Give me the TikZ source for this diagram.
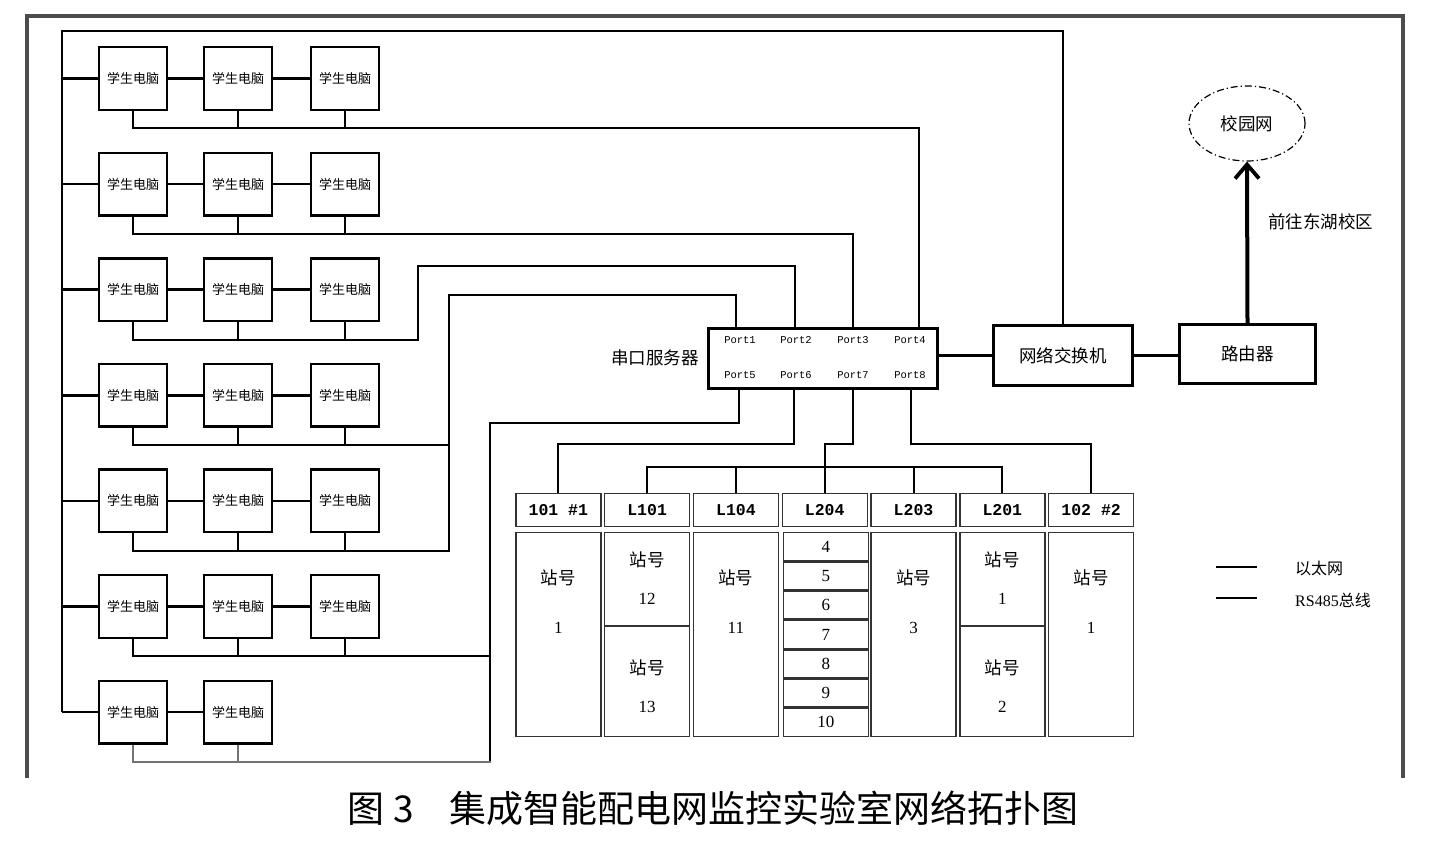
\documentclass[tikz,border=0pt]{standalone}
\usepackage{fontspec}
\setmainfont{Liberation Serif}
\newfontfamily\cjk{Noto Sans CJK SC}
\newfontfamily\mono{Liberation Mono}
\usetikzlibrary{arrows.meta,shapes.geometric,calc}
\begin{document}
\begin{tikzpicture}[x=1pt,y=-1pt,
  pc/.style={draw,line width=2.4pt,minimum width=67.5pt,minimum height=62.5pt,inner sep=0pt,font=\cjk\fontsize{13}{13}\selectfont},
  box/.style={draw,line width=3pt,inner sep=0pt,font=\cjk\fontsize{17.5}{17.5}\selectfont},
  eth/.style={line width=2.6pt},
  rs/.style={line width=2pt},
  rsg/.style={line width=1.4pt,draw=black!55},
  frame/.style={line width=4.5pt,draw=black!70},
  cell/.style={draw=black!80,line width=1.4pt,inner sep=0pt,minimum width=85pt},
  hdr/.style={cell,minimum height=32.6pt,font=\mono\bfseries\fontsize{16.5}{16.5}\selectfont},
  port/.style={inner sep=0pt,font=\mono\fontsize{10.5}{10.5}\selectfont},
  zh/.style={inner sep=0pt,font=\cjk\fontsize{17.5}{17.5}\selectfont},
  num/.style={inner sep=0pt,font=\fontsize{17}{17}\selectfont},
]
\useasboundingbox (0,0) rectangle (1432,843);
\fill[white] (0,0) rectangle (1432,843);

% outer frame
\draw[frame] (27,778) -- (27,16) -- (1403,16) -- (1403,778);

% student PCs
\foreach \r in {1,...,6}{
  \pgfmathsetmacro{\yy}{78.5+105.6*(\r-1)}
  \node[pc] (pc\r1) at (133,\yy) {学生电脑};
  \node[pc] (pc\r2) at (238,\yy) {学生电脑};
  \node[pc] (pc\r3) at (345,\yy) {学生电脑};
}
\node[pc] (pc71) at (133,712.1) {学生电脑};
\node[pc] (pc72) at (238,712.1) {学生电脑};

% network devices
\node[box,minimum width=229pt,minimum height=60pt] (sv) at (823,358.5) {};
\node[zh,anchor=east] (svl) at (699,358) {串口服务器};
\node[box,minimum width=139pt,minimum height=60pt] (sw) at (1063,355.5) {网络交换机};
\node[box,minimum width=136pt,minimum height=59pt] (rt) at (1247.5,354) {路由器};
\node[draw,ellipse,line width=1.2pt,dash pattern=on 7pt off 3pt on 1.2pt off 3pt,
      minimum width=116pt,minimum height=75pt,zh] (net) at (1247,123.5) {校园网};
\node[zh,anchor=west] (go) at (1268,222) {前往东湖校区};

% port labels
\node[port] (pt1) at (740,340) {Port1};
\node[port] (pt2) at (796,340) {Port2};
\node[port] (pt3) at (853,340) {Port3};
\node[port] (pt4) at (910,340) {Port4};
\node[port] (pt5) at (740,375) {Port5};
\node[port] (pt6) at (796,375) {Port6};
\node[port] (pt7) at (853,375) {Port7};
\node[port] (pt8) at (910,375) {Port8};
\coordinate (p1) at (736,327);
\coordinate (p2) at (795,327);
\coordinate (p3) at (853,327);
\coordinate (p4) at (919,327);
\coordinate (p5) at (739,390);
\coordinate (p6) at (794,390);
\coordinate (p7) at (853,390);
\coordinate (p8) at (911,390);

% ethernet
\coordinate (tl) at (62,31);
\draw[eth] (pc71.west -| tl) -- (tl) -| (sw.north);
\foreach \r in {1,...,6}{
  \draw[eth] (pc\r1.west -| tl) -- (pc\r1.west);
  \draw[eth] (pc\r1.east) -- (pc\r2.west);
  \draw[eth] (pc\r2.east) -- (pc\r3.west);
}
\draw[eth] (pc71.west -| tl) -- (pc71.west);
\draw[eth] (pc71.east) -- (pc72.west);
\draw[eth] (sv.east |- sw.west) -- (sw.west);
\draw[eth] (sw.east) -- (sw.east -| rt.west);
\draw[line width=4pt,-{Straight Barb[length=14pt,width=24pt,line width=3.8pt]}] (rt.north) -- (net.south);

% RS485 buses of PC rows
\foreach \r in {1,...,6}{
  \draw[rs] (pc\r2.south) -- ++(0,17.5);
  \draw[rs] (pc\r3.south) -- ++(0,17.5);
}
\coordinate (r3) at (418,266);
\coordinate (r4) at (449,294.5);
\coordinate (r6) at (490,423);
\coordinate (r7) at (490,763);
\draw[rs] (pc11.south) -- ++(0,17.5) -| (p4);
\draw[rs] (pc21.south) -- ++(0,17.5) -| (p3);
\draw[rs] (pc31.south) -- ++(0,17.5) -| (r3) -| (p2);
\draw[rs] (pc41.south) -- ++(0,17.5) -| (r4) -| (p1);
\draw[rs] (pc51.south) -- ++(0,17.5) -| (r4);
\draw[rs] (pc61.south) -- ++(0,17.5) -| (r6);
\draw[rs] (r7) -- (r6) -| (p5);
\draw[rsg] (pc72.south) -- ++(0,17.5);
\draw[rsg] (pc71.south) -- ++(0,17.5) -| (r7);

% table headers
\foreach \i/\t in {1/101 \#1,2/L101,3/L104,4/L204,5/L203,6/L201,7/102 \#2}{
  \pgfmathsetmacro{\xx}{558.3+88.8*(\i-1)}
  \node[hdr] (h\i) at (\xx,510) {\t};
}
% single bodies
\foreach \i/\n in {1/1,3/11,5/3,7/1}{
  \pgfmathsetmacro{\xx}{558.3+88.8*(\i-1)}
  \node[cell,minimum height=203.6pt] (b\i) at (\xx,634.5) {};
  \node[zh] (b\i z) at (\xx,578) {站号};
  \node[num] (b\i n) at (\xx,628) {\n};
}
% double bodies
\foreach \i/\na/\nb in {2/12/13,6/1/2}{
  \pgfmathsetmacro{\xx}{558.3+88.8*(\i-1)}
  \node[cell,minimum height=92.6pt] (b\i a) at (\xx,579) {};
  \node[cell,minimum height=109.6pt] (b\i b) at (\xx,681.5) {};
  \node[zh] (b\i az) at (\xx,560) {站号};
  \node[num] (b\i an) at (\xx,599) {\na};
  \node[zh] (b\i bz) at (\xx,668) {站号};
  \node[num] (b\i bn) at (\xx,707) {\nb};
}
% L204 cells
\foreach \k in {1,...,7}{
  \pgfmathsetmacro{\yy}{532+29.286*(\k-0.5)}
  \pgfmathtruncatemacro{\nn}{\k+3}
  \node[cell,minimum height=27.9pt,font=\fontsize{17}{17}\selectfont] (c\k) at (825.9,\yy) {\nn};
}

% RS485 to table
\coordinate (bar) at (0,467);
\draw[rs] (p6) -- ++(0,54) -| (h1.north);
\draw[rs] (p7) -- ++(0,54) -| (h4.north |- bar) -- (h4.north);
\draw[rs] (h2.north) |- (h6.north |- bar) -- (h6.north);
\draw[rs] (h3.north |- bar) -- (h3.north);
\draw[rs] (h5.north |- bar) -- (h5.north);
\draw[rs] (p8) -- ++(0,54) -| (h7.north);

% legend
\coordinate (la) at (1216,567);
\coordinate (lb) at (1257,567);
\coordinate (lc) at (1216,598);
\coordinate (ld) at (1257,598);
\draw[eth] (la) -- (lb);
\draw[line width=1.8pt] (lc) -- (ld);
\node[anchor=west,inner sep=0pt,font=\cjk\fontsize{16}{16}\selectfont] (le) at (1295,568) {以太网};
\node[anchor=west,inner sep=0pt,font=\fontsize{16}{16}\selectfont] (lr) at (1295,600) {RS485{\cjk 总线}};

% caption
\node[inner sep=0pt,anchor=west,font=\cjk\fontsize{37}{37}\selectfont] (cap) at (347,808) {图\hspace{9pt}3\hspace{36pt}集成智能配电网监控实验室网络拓扑图};
\end{tikzpicture}
\end{document}
